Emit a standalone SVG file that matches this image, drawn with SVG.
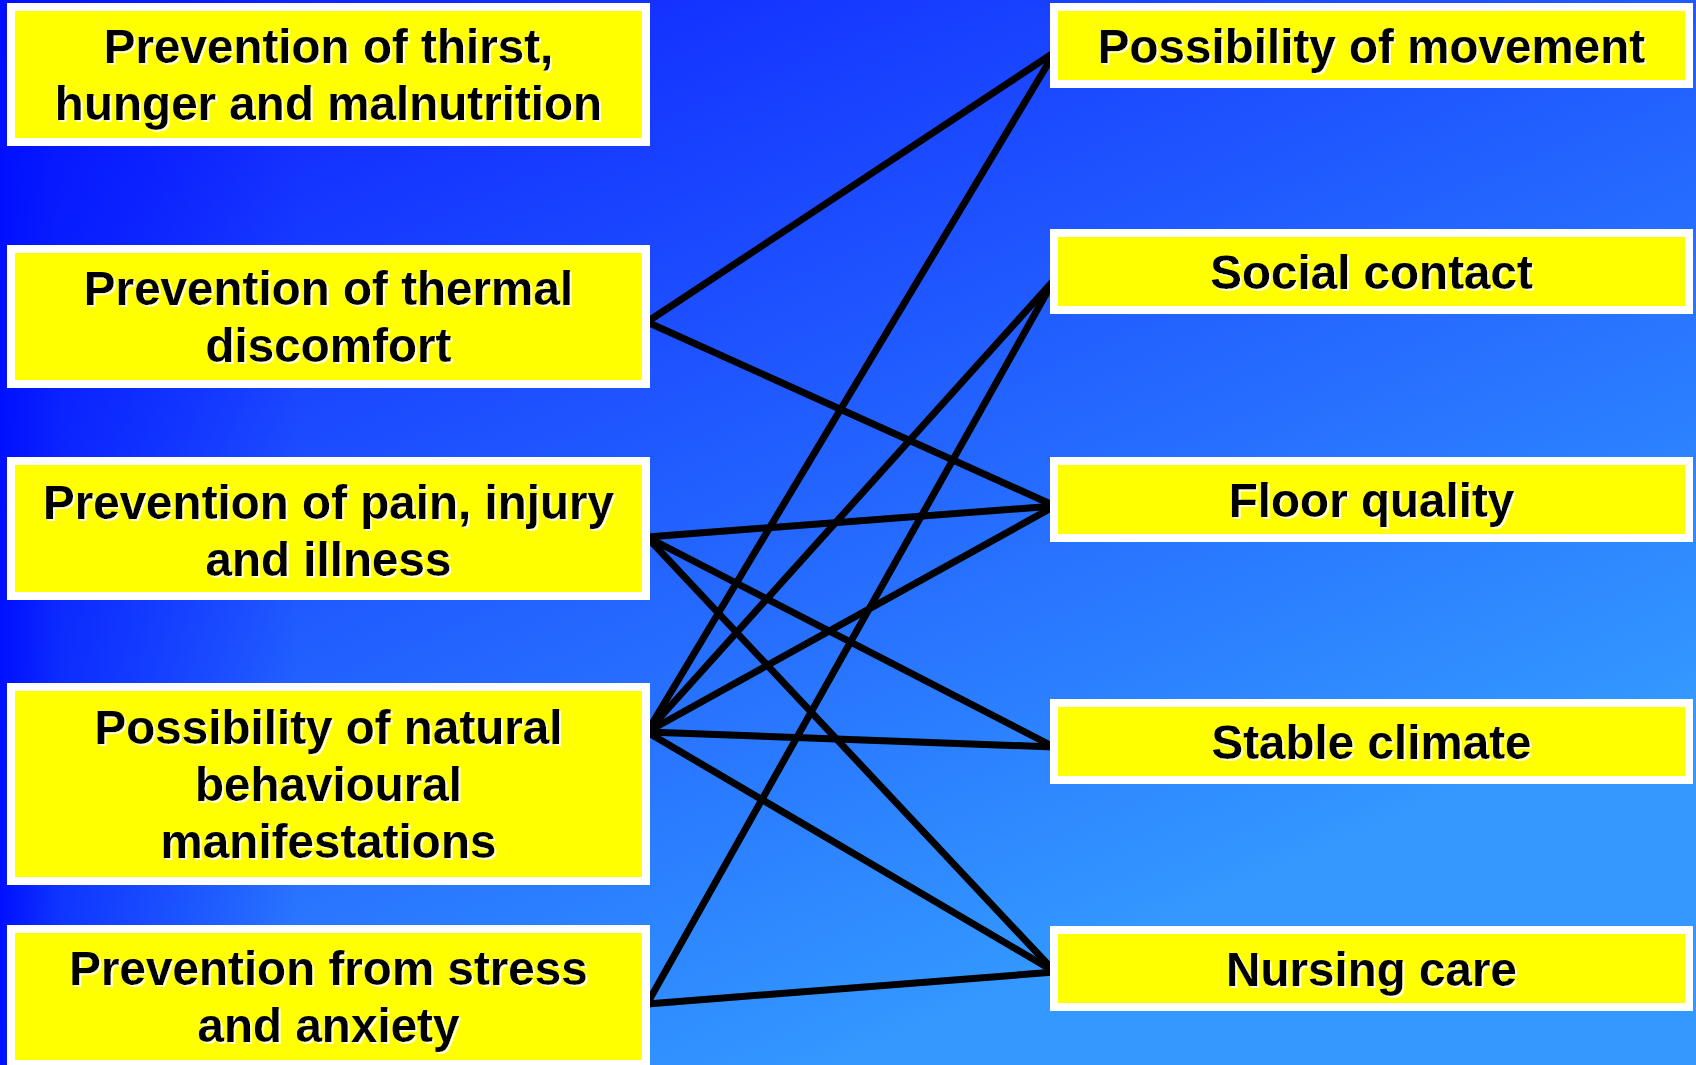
<svg xmlns="http://www.w3.org/2000/svg" width="1696" height="1065" viewBox="0 0 1696 1065">
  <defs>
    <linearGradient id="bg" gradientUnits="userSpaceOnUse" x1="0" y1="0" x2="520" y2="1200">
      <stop offset="0" stop-color="#0c18ff"/>
      <stop offset="1" stop-color="#3398ff"/>
    </linearGradient>
    <linearGradient id="edge" gradientUnits="userSpaceOnUse" x1="0" y1="0" x2="300" y2="0">
      <stop offset="0" stop-color="#0010ff" stop-opacity="1"/>
      <stop offset="0.2" stop-color="#0010ff" stop-opacity="0.6"/>
      <stop offset="1" stop-color="#0010ff" stop-opacity="0"/>
    </linearGradient>
    <filter id="shadow" x="-5%" y="-20%" width="110%" height="140%">
      <feOffset in="SourceAlpha" dx="2" dy="2" result="off"/>
      <feFlood flood-color="#ffffd0"/>
      <feComposite in2="off" operator="in" result="sh"/>
      <feMerge>
        <feMergeNode in="sh"/>
        <feMergeNode in="SourceGraphic"/>
      </feMerge>
    </filter>
    <style>
      .frame { fill: #ffffff; }
      .box { fill: #ffff00; }
      .lbl { font-family: "Liberation Sans", Arial, sans-serif; font-weight: bold; font-size: 47.6px; fill: #000000; text-anchor: middle; filter: url(#shadow); }
      .conn { stroke: #000000; stroke-width: 7; fill: none; stroke-linecap: round; }
    </style>
  </defs>

  <rect x="0" y="0" width="1696" height="1065" fill="url(#bg)"/>
  <rect x="0" y="0" width="300" height="1065" fill="url(#edge)"/>

  <g id="connectors">
    <line class="conn" x1="647" y1="322" x2="1055" y2="52"/>
    <line class="conn" x1="647" y1="322" x2="1055" y2="506"/>
    <line class="conn" x1="647" y1="537" x2="1055" y2="506"/>
    <line class="conn" x1="647" y1="537" x2="1054" y2="747"/>
    <line class="conn" x1="647" y1="537" x2="1055" y2="972"/>
    <line class="conn" x1="647" y1="732" x2="1055" y2="52"/>
    <line class="conn" x1="647" y1="732" x2="1054" y2="280"/>
    <line class="conn" x1="647" y1="732" x2="1055" y2="506"/>
    <line class="conn" x1="647" y1="732" x2="1054" y2="747"/>
    <line class="conn" x1="647" y1="732" x2="1055" y2="972"/>
    <line class="conn" x1="647" y1="1004" x2="1054" y2="280"/>
    <line class="conn" x1="647" y1="1004" x2="1055" y2="972"/>
  </g>

  <g id="node-thirst">
    <rect class="frame" x="7" y="3" width="643" height="143"/>
    <rect class="box" x="15" y="11" width="627" height="127"/>
    <text class="lbl" x="328.5" y="63">Prevention of thirst,</text>
    <text class="lbl" x="328.5" y="120">hunger and malnutrition</text>
  </g>
  <g id="node-thermal">
    <rect class="frame" x="7" y="245" width="643" height="143"/>
    <rect class="box" x="15" y="253" width="627" height="127"/>
    <text class="lbl" x="328.5" y="305">Prevention of thermal</text>
    <text class="lbl" x="328.5" y="362">discomfort</text>
  </g>
  <g id="node-pain">
    <rect class="frame" x="7" y="457" width="643" height="143"/>
    <rect class="box" x="15" y="465" width="627" height="127"/>
    <text class="lbl" x="328.5" y="519">Prevention of pain, injury</text>
    <text class="lbl" x="328.5" y="576">and illness</text>
  </g>
  <g id="node-behaviour">
    <rect class="frame" x="7" y="683" width="643" height="202"/>
    <rect class="box" x="15" y="691" width="627" height="186"/>
    <text class="lbl" x="328.5" y="744">Possibility of natural</text>
    <text class="lbl" x="328.5" y="801">behavioural</text>
    <text class="lbl" x="328.5" y="858">manifestations</text>
  </g>
  <g id="node-stress">
    <rect class="frame" x="7" y="925" width="643" height="143"/>
    <rect class="box" x="15" y="933" width="627" height="127"/>
    <text class="lbl" x="328.5" y="985">Prevention from stress</text>
    <text class="lbl" x="328.5" y="1042">and anxiety</text>
  </g>

  <g id="node-movement">
    <rect class="frame" x="1050" y="3" width="643" height="85"/>
    <rect class="box" x="1058" y="11" width="627" height="69"/>
    <text class="lbl" x="1371.5" y="63">Possibility of movement</text>
  </g>
  <g id="node-social">
    <rect class="frame" x="1050" y="229" width="643" height="85"/>
    <rect class="box" x="1058" y="237" width="627" height="69"/>
    <text class="lbl" x="1371.5" y="289">Social contact</text>
  </g>
  <g id="node-floor">
    <rect class="frame" x="1050" y="457" width="643" height="85"/>
    <rect class="box" x="1058" y="465" width="627" height="69"/>
    <text class="lbl" x="1371.5" y="517">Floor quality</text>
  </g>
  <g id="node-climate">
    <rect class="frame" x="1050" y="699" width="643" height="85"/>
    <rect class="box" x="1058" y="707" width="627" height="69"/>
    <text class="lbl" x="1371.5" y="759">Stable climate</text>
  </g>
  <g id="node-nursing">
    <rect class="frame" x="1050" y="926" width="643" height="85"/>
    <rect class="box" x="1058" y="934" width="627" height="69"/>
    <text class="lbl" x="1371.5" y="986">Nursing care</text>
  </g>
</svg>
